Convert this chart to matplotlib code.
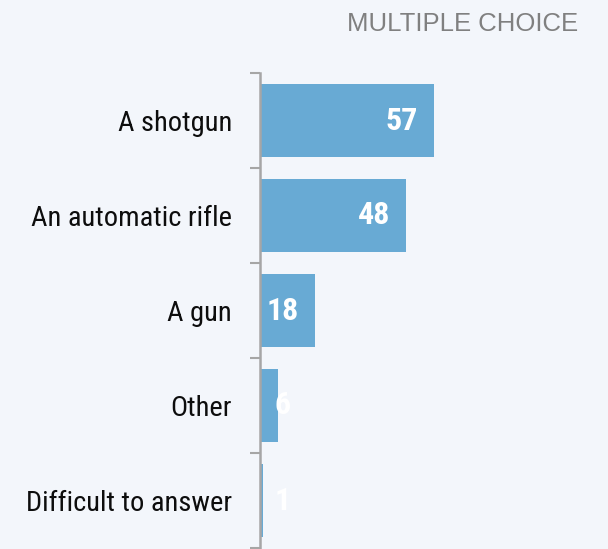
import matplotlib.pyplot as plt
from matplotlib import font_manager

# survey answers, multiple choice
answers = ["A shotgun", "An automatic rifle", "A gun", "Other", "Difficult to answer"]
shares = [57, 48, 18, 6, 1]
title = "MULTIPLE CHOICE"

bg = "#f3f6fb"
bar_color = "#68aad4"
axis_gray = "#a6a6a6"

names = {f.name for f in font_manager.fontManager.ttflist}
narrow = next((n for n in ["Roboto Condensed", "Archivo Narrow", "Liberation Sans"] if n in names), "DejaVu Sans")

fig = plt.figure(figsize=(6.08, 5.49), dpi=100, facecolor=bg)
ax = fig.add_axes([260 / 608, 1 / 549, 340 / 608, 475 / 549])
ax.set_facecolor(bg)

pos = list(range(len(answers)))
ax.barh(pos, shares, height=0.77, color=bar_color, zorder=2)
ax.set_ylim(len(answers) - 0.5, -0.5)
ax.set_xlim(0, 340 / 3.05)

# value labels inside the bars, pushed right a bit for the short ones
for p, v in zip(pos, shares):
    x = max(v - 10.5, 7.5)
    ax.text(x, p, str(v), ha="center", va="center", color="white",
            fontsize=23, fontweight="bold", family=narrow, zorder=3)

ax.set_yticks(pos)
ax.set_yticklabels(answers, family=narrow, fontsize=20.5, color="#0d0d0d")
ax.set_yticks([i - 0.5 for i in range(len(answers) + 1)], minor=True)
ax.tick_params(axis="y", which="major", length=0, pad=20)
ax.tick_params(axis="y", which="minor", length=7, width=1.5, color=axis_gray)
ax.set_xticks([])

for s in ["top", "right", "bottom"]:
    ax.spines[s].set_visible(False)
ax.spines["left"].set_color(axis_gray)
ax.spines["left"].set_linewidth(1.8)

fig.text(578 / 608, 1 - 31 / 549, title, ha="right", va="baseline",
         color="#808080", fontsize=18.5, family=["Liberation Sans", "DejaVu Sans"])

fig.savefig("out.png", dpi=100, facecolor=bg)
